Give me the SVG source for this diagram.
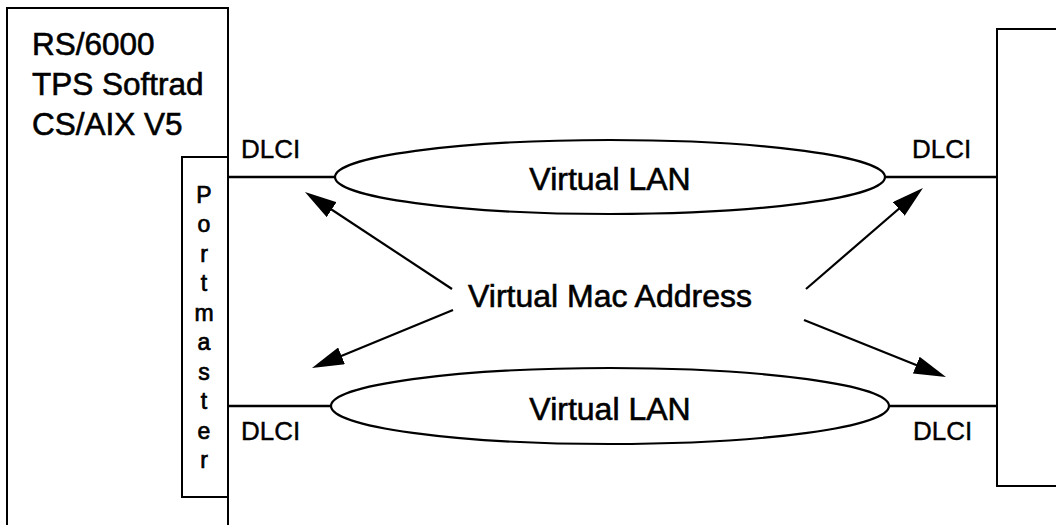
<svg xmlns="http://www.w3.org/2000/svg" width="1056" height="525" viewBox="0 0 1056 525">
  <style>
    .box { fill: none; stroke: #000; stroke-width: 2; }
    .wire { fill: none; stroke: #000; stroke-width: 2.5; }
    .lan { fill: none; stroke: #000; stroke-width: 2.2; }
    .ptr { fill: none; stroke: #000; stroke-width: 2.2; marker-end: url(#head); }
    text { font-family: "Liberation Sans", Arial, Helvetica, sans-serif; fill: #000; stroke: #000; stroke-width: 0.6; }
    .big { font-size: 31.5px; }
    .lbl { font-size: 32px; }
    .dlci { font-size: 26px; stroke-width: 0.4; }
    .pm { font-size: 23px; text-anchor: middle; stroke-width: 0.7; }
  </style>
  <defs>
    <marker id="head" viewBox="0 0 32 18" refX="22" refY="9" markerWidth="32" markerHeight="18" markerUnits="userSpaceOnUse" orient="auto">
      <path d="M0,0 L32,9 L0,18 z" fill="#000"/>
    </marker>
  </defs>

  <rect width="1056" height="525" fill="#fff"/>

  <!-- host system -->
  <g id="host">
    <rect class="box" x="7" y="8" width="221" height="530"/>
    <text class="big" x="32" y="55">RS/6000</text>
    <text class="big" x="32" y="95">TPS Softrad</text>
    <text class="big" x="32" y="135">CS/AIX V5</text>
  </g>

  <!-- communications server attached to the host -->
  <g id="portmaster">
    <rect class="box" x="182" y="157" width="46" height="340" fill="#fff"/>
    <text class="pm" x="204" y="203">P</text>
    <text class="pm" x="204" y="232">o</text>
    <text class="pm" x="204" y="262">r</text>
    <text class="pm" x="204" y="291">t</text>
    <text class="pm" x="204" y="321">m</text>
    <text class="pm" x="204" y="350">a</text>
    <text class="pm" x="204" y="380">s</text>
    <text class="pm" x="204" y="409">t</text>
    <text class="pm" x="204" y="439">e</text>
    <text class="pm" x="204" y="468">r</text>
  </g>

  <!-- remote system -->
  <g id="remote">
    <rect class="box" x="997" y="29" width="80" height="457"/>
  </g>

  <g id="lan-upper">
    <ellipse class="lan" cx="610" cy="177" rx="275" ry="37"/>
    <text class="lbl" x="610" y="190" text-anchor="middle">Virtual LAN</text>
  </g>

  <g id="lan-lower">
    <ellipse class="lan" cx="610" cy="406" rx="279" ry="38"/>
    <text class="lbl" x="610" y="420" text-anchor="middle">Virtual LAN</text>
  </g>

  <g id="mac-address">
    <text class="lbl" x="468" y="307">Virtual Mac Address</text>
  </g>

  <g id="dlci-labels">
    <text class="dlci" x="241" y="158">DLCI</text>
    <text class="dlci" x="912" y="158">DLCI</text>
    <text class="dlci" x="241" y="440">DLCI</text>
    <text class="dlci" x="913" y="440">DLCI</text>
  </g>

  <!-- links and pointers -->
  <g id="connectors">
    <line class="wire" x1="228" y1="177" x2="335" y2="177"/>
    <line class="wire" x1="885" y1="177" x2="997" y2="177"/>
    <line class="wire" x1="228" y1="406" x2="331" y2="406"/>
    <line class="wire" x1="889" y1="406" x2="997" y2="406"/>

    <line class="ptr" x1="452" y1="289" x2="313.3" y2="197.5"/>
    <line class="ptr" x1="453" y1="310" x2="321.2" y2="364.2"/>
    <line class="ptr" x1="806" y1="289" x2="915.4" y2="194.5"/>
    <line class="ptr" x1="804" y1="320" x2="936.7" y2="373.3"/>
  </g>
</svg>
